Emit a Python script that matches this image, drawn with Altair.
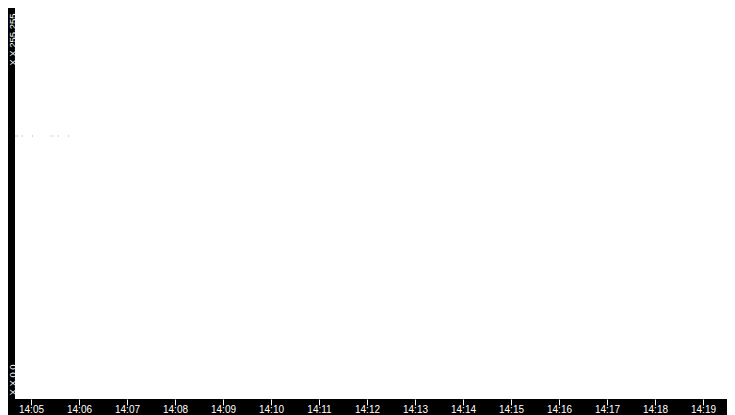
import altair as alt
import pandas as pd

# data
times = ["14:04:41", "14:04:43", "14:04:49", "14:05:02", "14:05:25", "14:05:28", "14:05:34", "14:05:47"]
addr = [44100, 44100, 44100, 44100, 44100, 44100, 44100, 44100]
kind = ["green", "green", "green", "green", "grey", "grey", "green", "green"]

x_tick_labels = ["14:05", "14:06", "14:07", "14:08", "14:09", "14:10", "14:11", "14:12",
                 "14:13", "14:14", "14:15", "14:16", "14:17", "14:18", "14:19"]
y_tick_values = [0, 65535]
y_tick_labels = ["X.X.0.0", "X.X.255.255"]

df = pd.DataFrame({
    "t": ["2024-01-01T" + s for s in times],
    "addr": addr,
    "kind": kind,
})


def dt(hms):
    h, m, s = (int(v) for v in (hms + ":00").split(":")[:3])
    return alt.DateTime(year=2024, month=1, date=1, hours=h, minutes=m, seconds=s)


x_values = [dt(s) for s in x_tick_labels]

y_label_expr = "datum.value == 0 ? '%s' : '%s'" % (y_tick_labels[0], y_tick_labels[1])

chart = alt.Chart(df).mark_square(size=1, opacity=1).encode(
    x=alt.X(
        "t:T",
        scale=alt.Scale(domain=[dt("14:04:40"), dt("14:19:30")]),
        axis=alt.Axis(
            values=x_values,
            format="%H:%M",
            title=None,
            domain=False,
            grid=False,
            ticks=True,
            tickColor="white",
            tickSize=6,
            tickWidth=1,
            labelColor="white",
            labelFont="Liberation Sans",
            labelFontSize=10,
            labelPadding=-1,
            labelFlush=False,
            labelOverlap=False,
            labelBound=False,
        ),
    ),
    y=alt.Y(
        "addr:Q",
        scale=alt.Scale(domain=[0, 65535], nice=False, zero=False),
        axis=alt.Axis(
            values=y_tick_values,
            labelExpr=y_label_expr,
            title=None,
            domain=False,
            grid=False,
            ticks=False,
            labelColor="white",
            labelFont="Liberation Sans",
            labelFontSize=9.5,
            labelAngle=270,
            labelBaseline="alphabetic",
            labelAlign={"condition": {"test": "datum.value == 0", "value": "left"}, "value": "right"},
            labelOffset={"condition": {"test": "datum.value == 0", "value": -4}, "value": 5},
            labelPadding=0,
            labelFlush=False,
            labelOverlap=False,
            labelBound=False,
        ),
    ),
    color=alt.Color(
        "kind:N",
        scale=alt.Scale(domain=["green", "grey"], range=["#77cc77", "#aabbaa"]),
        legend=None,
    ),
).properties(
    width=712,
    height=391,
    autosize=alt.AutoSizeParams(type="none"),
    padding={"left": 7, "top": 0, "right": 0, "bottom": 16},
    background="#000000",
).configure_view(
    fill="white",
    strokeWidth=0,
)

chart.save("out.html", embed_options={"renderer": "svg", "actions": False})
